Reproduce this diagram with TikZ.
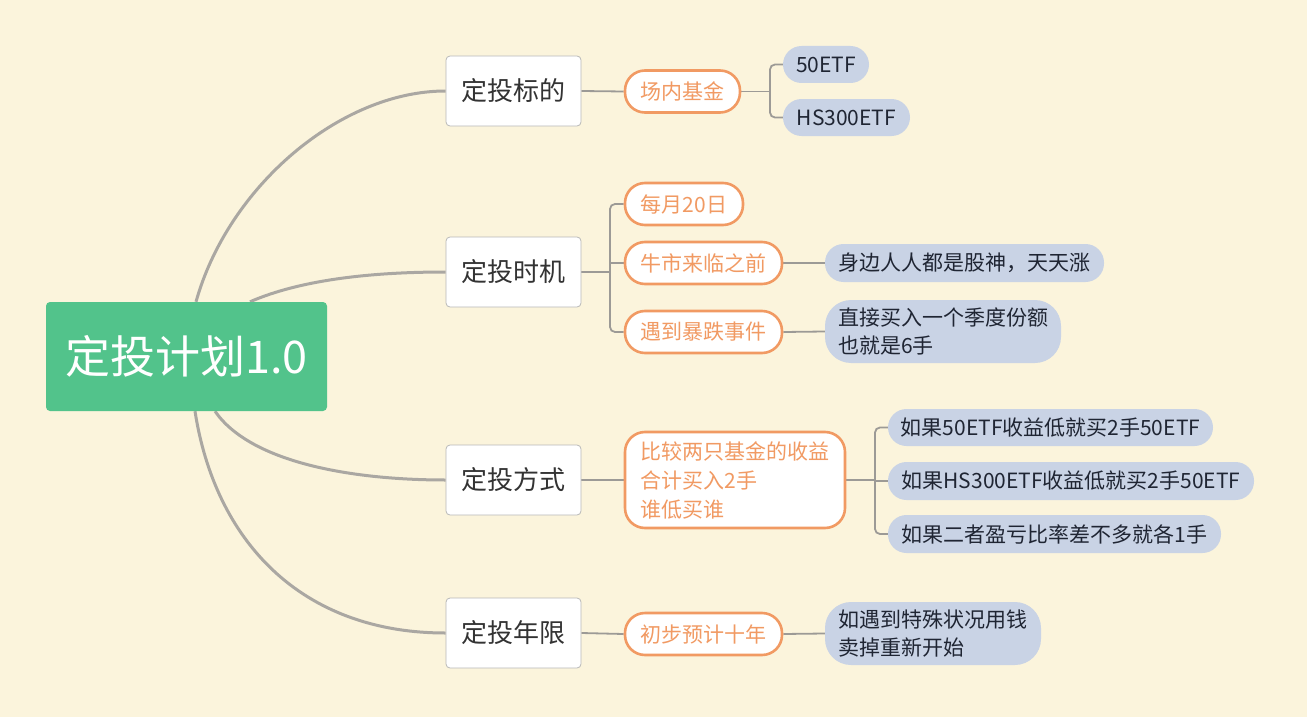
\documentclass[tikz,border=0pt]{standalone}
\usepackage{fontspec}
\newfontfamily\cjk{Noto Sans CJK SC}
\definecolor{bgc}{HTML}{FBF4DC}
\definecolor{rootg}{HTML}{52C38B}
\definecolor{org}{HTML}{F19A63}
\definecolor{blu}{HTML}{C9D3E5}
\definecolor{conn}{HTML}{AAA7A2}
\definecolor{lnk}{HTML}{9C9A96}
\definecolor{txt}{HTML}{333333}
\definecolor{ltxt}{HTML}{1F2533}
\pgfdeclarelayer{bglayer}
\pgfdeclarelayer{edgelayer}
\pgfsetlayers{bglayer,edgelayer,main}
\begin{document}
\begin{tikzpicture}[x=1pt,y=-1pt,
  rootbox/.style={fill=rootg, rounded corners=4pt, text=white, inner sep=0pt,
    font=\cjk\fontsize{45}{50}\selectfont, minimum width=281pt, minimum height=109pt},
  topic/.style={draw=black!28, line width=0.8pt, fill=white, rounded corners=4pt, text=txt, inner sep=0pt,
    font=\cjk\fontsize{26}{30}\selectfont, minimum width=135pt, minimum height=70pt},
  sub/.style={draw=org, line width=2.6pt, fill=white, text=org, align=left, inner sep=0pt,
    font=\cjk\fontsize{21}{29}\selectfont, rounded corners=20pt, minimum height=42pt},
  leaf/.style={fill=blu, text=ltxt, align=left, inner sep=0pt,
    font=\cjk\fontsize{21}{28}\selectfont, rounded corners=18.5pt, minimum height=37pt},
  curve/.style={draw=conn, line width=3pt},
  link/.style={draw=lnk, line width=1.8pt, rounded corners=5pt}
]
\begin{pgfonlayer}{bglayer}
\fill[bgc] (0,0) rectangle (1307,717);
\end{pgfonlayer}
\useasboundingbox (0,0) rectangle (1307,717);

% root
\node[rootbox] (root) at (186.5,356.5) {定投计划1.0};

% topics
\node[topic] (t1) at (513.5,91) {定投标的};
\node[topic] (t2) at (513.5,272) {定投时机};
\node[topic] (t3) at (513.5,480) {定投方式};
\node[topic] (t4) at (513.5,633) {定投年限};

% subtopics
\node[sub, minimum width=115pt] (s1) at (682.5,91.5) {场内基金};
\node[sub, minimum width=118pt] (s2) at (684,204) {每月20日};
\node[sub, minimum width=157pt] (s3) at (703.5,263) {牛市来临之前};
\node[sub, minimum width=157pt] (s4) at (703.5,332) {遇到暴跌事件};
\node[sub, minimum width=220pt, minimum height=96pt] (s5) at (735,480) {比较两只基金的收益\\合计买入2手\\谁低买谁};
\node[sub, minimum width=157pt] (s6) at (703.5,634) {初步预计十年};

% leaves
\node[leaf, minimum width=86pt] (l1) at (826,64.5) {50ETF};
\node[leaf, minimum width=127pt] (l2) at (846.5,117.5) {HS300ETF};
\node[leaf, minimum width=279pt, minimum height=38pt] (l3) at (964.5,263) {身边人人都是股神，天天涨};
\node[leaf, minimum width=236pt, minimum height=63pt, rounded corners=26pt] (l4) at (943,331.5) {直接买入一个季度份额\\也就是6手};
\node[leaf, minimum width=325pt] (l5) at (1050.5,427.5) {如果50ETF收益低就买2手50ETF};
\node[leaf, minimum width=366pt, minimum height=38pt] (l6) at (1071,481) {如果HS300ETF收益低就买2手50ETF};
\node[leaf, minimum width=333pt, minimum height=38pt] (l7) at (1054.5,534) {如果二者盈亏比率差不多就各1手};
\node[leaf, minimum width=216pt, minimum height=63pt, rounded corners=26pt] (l8) at (933,633.5) {如遇到特殊状况用钱\\卖掉重新开始};

% curve start points on the root border
\coordinate (r1) at ([xshift=9.5pt]root.north);
\coordinate (r2) at ([xshift=63.5pt]root.north);
\coordinate (r3) at ([xshift=28.5pt]root.south);
\coordinate (r4) at ([xshift=8.5pt]root.south);

% bracket points
\coordinate (b1) at (770,91.5);
\coordinate (b2) at (610,272);
\coordinate (b5) at (875,480);

\begin{pgfonlayer}{edgelayer}
% root curves
\draw[curve] (r1) .. controls (228,187) and (340,91) .. (t1.west);
\draw[curve] (r2) .. controls (300,280) and (370,272) .. (t2.west);
\draw[curve] (r3) .. controls (250,462) and (350,480) .. (t3.west);
\draw[curve] (r4) .. controls (215,540) and (300,633) .. (t4.west);

% topic to sub
\draw[link] (t1.east) -- (s1.west);
\draw[link] (t2.east) -- (b2);
\draw[link] (s2.west) -| (b2) |- (s4.west);
\draw[link] (b2 |- s3.west) -- (s3.west);
\draw[link] (t3.east) -- (s5.west);
\draw[link] (t4.east) -- (s6.west);

% sub to leaf
\draw[link] (s1.east) -- (b1);
\draw[link] (l1.west) -| (b1) |- (l2.west);
\draw[link] (s3.east) -- (l3.west);
\draw[link] (s4.east) -- (l4.west);
\draw[link] (s5.east) -- (b5);
\draw[link] (l5.west) -| (b5) |- (l7.west);
\draw[link] (b5 |- l6.west) -- (l6.west);
\draw[link] (s6.east) -- (l8.west);
\end{pgfonlayer}
\end{tikzpicture}
\end{document}
